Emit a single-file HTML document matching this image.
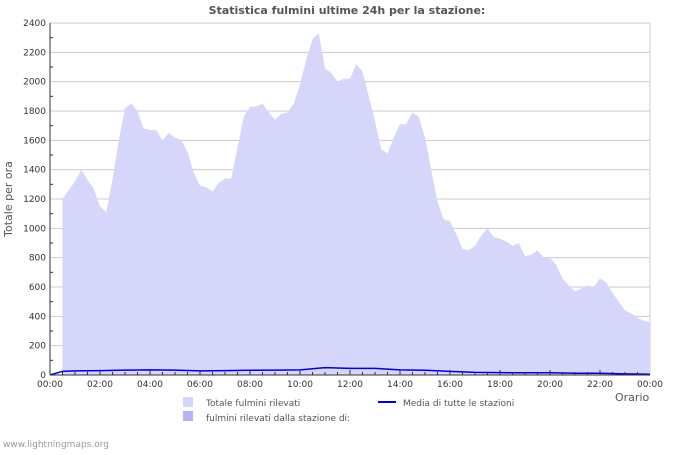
<!DOCTYPE html>
<html><head><meta charset="utf-8"><style>
body{margin:0;background:#fff;}
svg text{font-family:"DejaVu Sans","Liberation Sans",sans-serif;}
</style></head><body>
<svg id="chart" width="700" height="450" xmlns="http://www.w3.org/2000/svg">
<text x="347" y="14" text-anchor="middle" font-size="11" font-weight="bold" fill="#555">Statistica fulmini ultime 24h per la stazione:</text>
<text transform="translate(12,199) rotate(-90)" text-anchor="middle" font-size="11" fill="#555">Totale per ora</text>
<text x="615" y="401" font-size="11" fill="#555">Orario</text>
<g id="grid"></g><g id="series"></g><g id="axes"></g>
<rect x="183" y="397" width="10" height="10" fill="#d6d6fb"/>
<text x="206" y="406" font-size="9" fill="#555">Totale fulmini rilevati</text>
<rect x="183" y="411" width="10" height="10" fill="#b3b3f3"/>
<text x="206" y="421" font-size="9" fill="#555">fulmini rilevati dalla stazione di:</text>
<line x1="378" y1="402" x2="396" y2="402" stroke="#0000dd" stroke-width="2"/>
<text x="403" y="406" font-size="9" fill="#555">Media di tutte le stazioni</text>
<text x="3" y="447" font-size="9" fill="#999">www.lightningmaps.org</text>
</svg>
<script>
const totals=[1200,1260,1320,1400,1330,1270,1150,1110,1330,1600,
1820,1850,1800,1680,1670,1670,1600,1650,1620,1600,
1520,1380,1290,1280,1250,1310,1340,1340,1550,1760,
1830,1830,1850,1790,1740,1780,1790,1850,1980,2150,
2290,2330,2090,2060,2000,2020,2020,2120,2070,1900,
1730,1540,1510,1620,1710,1710,1790,1760,1620,1400,
1180,1060,1050,960,860,850,880,950,1000,940,
930,910,880,900,810,820,850,800,800,750,
660,610,570,590,610,600,660,630,560,500,
440,420,390,370,360];
const avgHours=[0,0.5,1,2,3,4,5,6,7,8,9,10,11,12,13,14,15,16,17,18,19,20,21,22,23,24];
const avgValues=[0,25,28,30,33,35,33,28,30,32,33,35,50,45,45,35,32,25,18,16,15,15,12,12,8,5];
const yTicks=[0,200,400,600,800,1000,1200,1400,1600,1800,2000,2200,2400];
const xTickLabels=["00:00","02:00","04:00","06:00","08:00","10:00","12:00","14:00","16:00","18:00","20:00","22:00","00:00"];
const startHour=0.5, stepHour=0.25;
const L=50,R=650,T=23,B=375;
const xs=h=>L+(R-L)*h/24, ys=v=>B-(B-T)*v/2400;
const NS="http://www.w3.org/2000/svg";
function mk(tag,attrs,parent){const e=document.createElementNS(NS,tag);for(const k in attrs)e.setAttribute(k,attrs[k]);parent.appendChild(e);return e;}
const grid=document.getElementById('grid'),series=document.getElementById('series'),axes=document.getElementById('axes');
yTicks.forEach(v=>{
 const g=mk('line',{x1:L,x2:R,y1:ys(v),y2:ys(v),stroke:'#cccccc'},grid);
 
 
 const t=mk('text',{x:L-4,y:ys(v)+3,'text-anchor':'end','font-size':9,fill:'#333'},axes);
 t.textContent=v;
 
 
});
for(let v=100;v<2400;v+=200){const m=mk('line',{x1:L,x2:L+3,y1:ys(v),y2:ys(v),stroke:'#333'},axes);
 
 }
mk('line',{x1:R,x2:R,y1:T,y2:B,stroke:'#cccccc'},grid);
let pts=[];
totals.forEach((v,i)=>{const h=startHour+i*stepHour;pts.push(xs(h)+','+ys(v));});
pts.push(xs(24)+','+B);pts.push(xs(startHour)+','+B);
const area=mk('polygon',{points:pts.join(' '),fill:'#d6d6fb'},series);


let ap=avgHours.map((h,i)=>xs(h)+','+ys(avgValues[i])).join(' ');
const avg=mk('polyline',{points:ap,fill:'none',stroke:'#0000dd','stroke-width':1.5},series);


mk('line',{x1:L,x2:L,y1:T,y2:B,stroke:'#333'},axes);
mk('line',{x1:L,x2:R,y1:B,y2:B,stroke:'#333'},axes);
xTickLabels.forEach((lab,i)=>{
 const t=mk('text',{x:xs(i*2),y:B+12,'text-anchor':'middle','font-size':9,fill:'#333'},axes);
 t.textContent=lab;
 
 
});
for(let h=0.5;h<24;h+=0.5){const m=mk('line',{x1:xs(h),x2:xs(h),y1:B,y2:B-(h%2===0?5:3),stroke:'#333'},axes);
 
 }
</script>
</body></html>
